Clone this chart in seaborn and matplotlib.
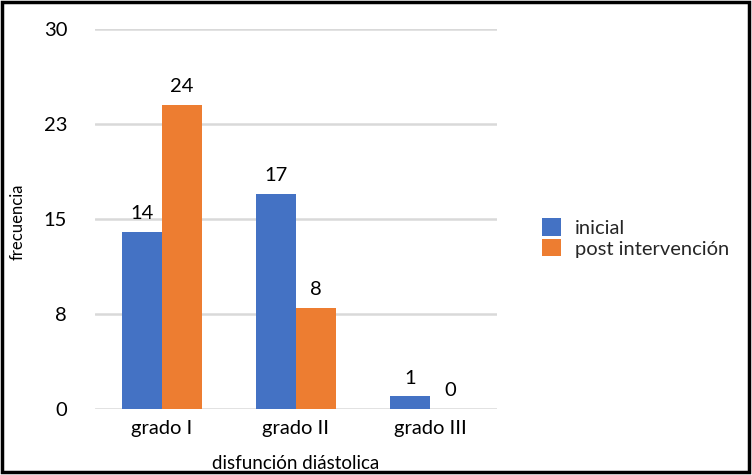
import pandas as pd
import matplotlib
matplotlib.use("Agg")
import matplotlib.pyplot as plt
import seaborn as sns
from matplotlib.patches import Rectangle

# Datos
grados = ["grado I", "grado II", "grado III"]
inicial = [14, 17, 1]
post_intervencion = [24, 8, 0]
series = ["inicial", "post intervención"]
y_ticks = [0, 7.5, 15, 22.5, 30]
y_tick_labels = ["0", "8", "15", "23", "30"]

df = pd.DataFrame({
    "grado": grados * 2,
    "frecuencia": inicial + post_intervencion,
    "serie": [series[0]] * 3 + [series[1]] * 3,
})

sns.set_theme(style="white")
plt.rcParams["font.family"] = ["Lato", "DejaVu Sans"]

fig = plt.figure(figsize=(7.52, 4.75), dpi=100)
ax = fig.add_axes([95 / 752, 1 - 409 / 475, 402 / 752, 380 / 475])

sns.barplot(
    data=df, x="grado", y="frecuencia", hue="serie",
    palette=["#4472C4", "#ED7D31"], width=0.6, ax=ax,
    saturation=1, legend=True, linewidth=0,
)

fs = 14.5
ax.set_ylim(0, 30)
ax.set_yticks(y_ticks)
ax.set_yticklabels(y_tick_labels)
ax.yaxis.grid(True, color="#d9d9d9", linewidth=1.8)
ax.set_axisbelow(True)
for s in ax.spines.values():
    s.set_visible(False)
ax.tick_params(axis="y", length=0, pad=20, labelsize=fs, colors="#000000")
ax.tick_params(axis="x", length=0, pad=8, labelsize=fs, colors="#000000")

# etiquetas de valor
for cont in ax.containers:
    ax.bar_label(cont, padding=7, fontsize=fs, color="#000000")

ax.set_ylabel("")
ax.set_xlabel("disfunción diástolica", fontsize=13.5, labelpad=13, color="#000000")
fig.text(18 / 752, 1 - 222 / 475, "frecuencia", rotation=90,
         ha="center", va="center", fontsize=12, color="#000000")

handles, labels = ax.get_legend_handles_labels()
ax.legend_.remove()
fig.legend(handles, labels, loc="center left",
           bbox_to_anchor=(524 / 752, 1 - 238 / 475), frameon=False,
           fontsize=fs, handlelength=0.95, handleheight=0.95,
           handletextpad=0.7, labelspacing=0.1)

# marco negro alrededor de la figura
fig.patches.append(Rectangle((2 / 752, 3 / 475), 747 / 752, 470 / 475,
                             transform=fig.transFigure, fill=False,
                             edgecolor="black", linewidth=2.5))

fig.savefig("out.png", dpi=100)
